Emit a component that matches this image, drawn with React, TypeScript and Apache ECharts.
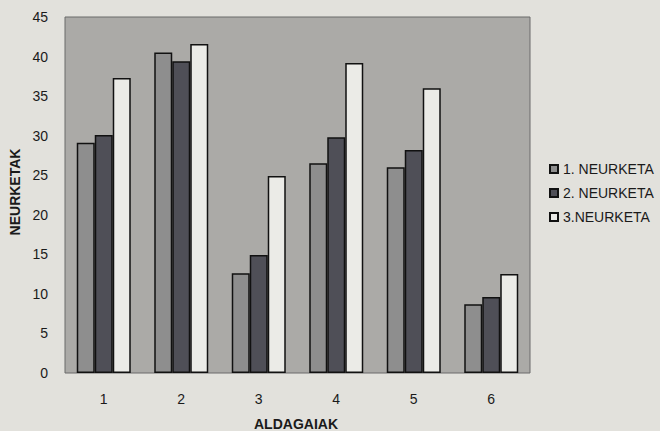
import React, { useEffect, useRef } from "react";
import * as echarts from "echarts";

const categories = ["1", "2", "3", "4", "5", "6"];
const seriesNames = ["1. NEURKETA", "2. NEURKETA", "3.NEURKETA"];
const neurketa1 = [29.1, 40.5, 12.6, 26.5, 26.0, 8.7];
const neurketa2 = [30.1, 39.4, 14.9, 29.8, 28.2, 9.6];
const neurketa3 = [37.3, 41.6, 24.9, 39.2, 36.0, 12.5];
const yAxisTitle = "NEURKETAK";
const xAxisTitle = "ALDAGAIAK";

const FONT = "'Liberation Sans', Arial, sans-serif";
const barColors = ["#8e8e8e", "#4f4f57", "#ebebe7"];

export default function App() {
  const ref = useRef<HTMLDivElement>(null);
  useEffect(() => {
    if (!ref.current) return;
    const chart = echarts.init(ref.current, undefined, { renderer: "svg" });
    const data = [neurketa1, neurketa2, neurketa3];
    chart.setOption({
      animation: false,
      backgroundColor: "#e2e1dc",
      textStyle: { fontFamily: FONT },
      grid: {
        left: 65,
        right: 130,
        top: 17,
        bottom: 58,
        show: true,
        backgroundColor: "#abaaa7",
        borderColor: "#6a6a6a",
        borderWidth: 1,
      },
      legend: {
        orient: "vertical",
        left: 544,
        top: 157,
        itemWidth: 8,
        itemHeight: 8,
        itemGap: 10,
        icon: "rect",
        textStyle: { fontSize: 14, color: "#1a1a1a", fontFamily: FONT },
        data: seriesNames,
      },
      xAxis: {
        type: "category",
        data: categories,
        axisLine: { show: false },
        axisTick: { show: false },
        axisLabel: { color: "#1a1a1a", fontSize: 14, margin: 19, fontFamily: FONT },
        splitLine: { show: false },
      },
      yAxis: {
        type: "value",
        min: 0,
        max: 45,
        interval: 5,
        axisLine: { show: false },
        axisTick: { show: false },
        splitLine: { show: false },
        axisLabel: { color: "#1a1a1a", fontSize: 14, margin: 17, fontFamily: FONT },
      },
      graphic: [
        {
          type: "text",
          x: 15,
          y: 192,
          rotation: Math.PI / 2,
          style: {
            text: yAxisTitle,
            fontSize: 14,
            fontWeight: "bold",
            fill: "#1a1a1a",
            align: "center",
            verticalAlign: "middle",
            fontFamily: FONT,
          },
        },
        {
          type: "text",
          x: 296,
          y: 424,
          style: {
            text: xAxisTitle,
            fontSize: 14,
            fontWeight: "bold",
            fill: "#1a1a1a",
            align: "center",
            verticalAlign: "middle",
            fontFamily: FONT,
          },
        },
      ],
      series: seriesNames.map((name, i) => ({
        name,
        type: "bar",
        data: data[i],
        barWidth: 18,
        barGap: "0%",
        itemStyle: {
          color: barColors[i],
          borderColor: "#111",
          borderWidth: 1.5,
        },
      })),
    });
    return () => chart.dispose();
  }, []);
  return (
    <div
      ref={ref}
      style={{ position: "fixed", left: 0, top: 0, width: 660, height: 431 }}
    />
  );
}
